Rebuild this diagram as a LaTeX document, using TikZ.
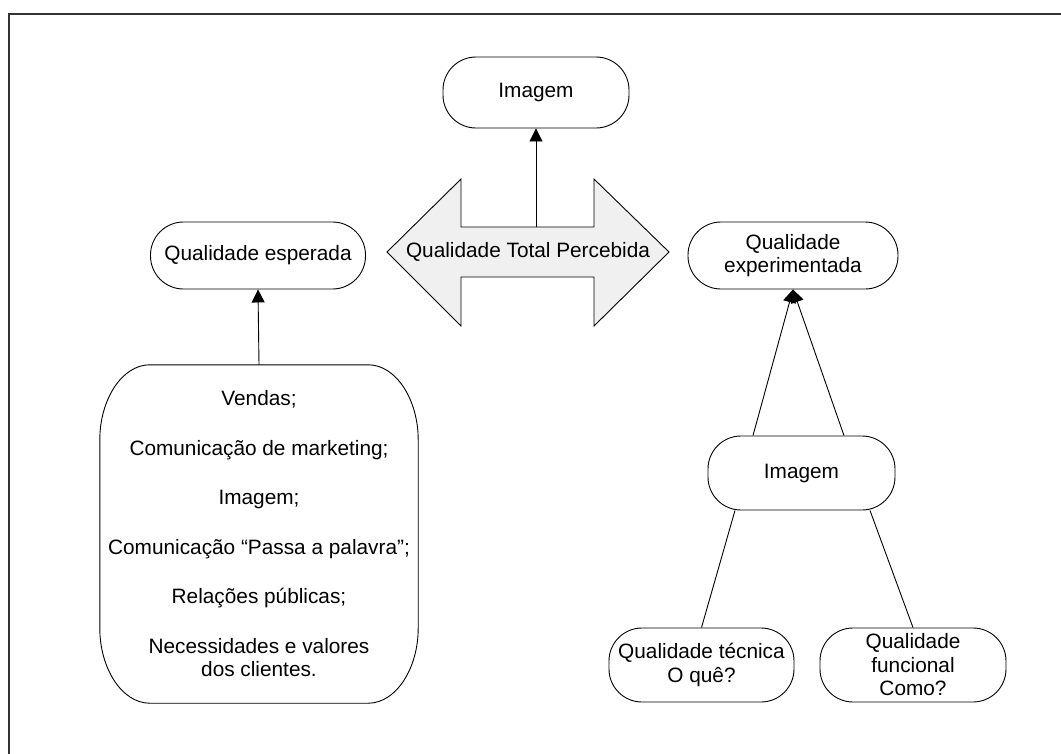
\documentclass[tikz,border=0pt]{standalone}
\usepackage{fontspec}
\setmainfont{Liberation Sans}
\usetikzlibrary{arrows.meta,calc}
\begin{document}
\begin{tikzpicture}[x=1pt,y=-1pt,
  txt/.style={font=\fontsize{20.8}{23.5}\selectfont},
  box/.style={draw, line width=0.9pt, rounded corners=33pt, inner sep=0pt,
              align=center, txt},
  link/.style={line width=0.9pt},
  tip/.style={-{Triangle[width=13pt,length=13pt]}}]
\useasboundingbox (0,0) rectangle (1061,753);
\fill[white] (0,0) rectangle (1061,753);
% outer frame
\draw[line width=2pt, black!80] (9,780) -- (9,14) -- (1080,14);

% nodes
\node[box, minimum width=186pt, minimum height=71pt] (img) at (536,92.5) {Imagem};
\node[box, minimum width=215pt, minimum height=67pt] (esp) at (258,255.5) {Qualidade esperada};
\node[box, minimum width=210pt, minimum height=67pt] (exp) at (793,255.5) {Qualidade\\experimentada};
\node[box, minimum width=187pt, minimum height=74pt] (imgm) at (801.5,473) {Imagem};
\node[box, minimum width=185pt, minimum height=74pt] (tec) at (701.5,665) {Qualidade técnica\\O quê?};
\node[box, minimum width=186pt, minimum height=74pt] (fun) at (913,665) {Qualidade\\funcional\\Como?};
\node[txt, align=center, inner sep=0pt, minimum width=318pt, minimum height=338pt] (big) at (259,534)
  {Vendas;\\[26pt]Comunicação de marketing;\\[26pt]Imagem;\\[26pt]Comunicação “Passa a palavra”;\\[26pt]Relações públicas;\\[26pt]Necessidades e valores\\dos clientes.};
% outline of the list block: flat top and bottom, elliptical corners
\draw[line width=0.9pt]
  ($(big.north west)+(50,0)$) -- ($(big.north east)+(-50,0)$)
  .. controls ($(big.north east)+(-22,0)$) and ($(big.north east)+(0,35)$) .. ($(big.north east)+(0,75)$)
  -- ($(big.south east)+(0,-75)$)
  .. controls ($(big.south east)+(0,-35)$) and ($(big.south east)+(-22,0)$) .. ($(big.south east)+(-50,0)$)
  -- ($(big.south west)+(50,0)$)
  .. controls ($(big.south west)+(22,0)$) and ($(big.south west)+(0,-35)$) .. ($(big.south west)+(0,-75)$)
  -- ($(big.north west)+(0,75)$)
  .. controls ($(big.north west)+(0,35)$) and ($(big.north west)+(22,0)$) .. ($(big.north west)+(50,0)$)
  -- cycle;

% double-headed block arrow
\draw[line width=0.9pt, fill=black!6] (387,252) -- (461,179) -- (461,227) -- (594,227) -- (594,179)
  -- (669,252) -- (594,326) -- (594,277) -- (461,277) -- (461,326) -- cycle;
\node[txt] (qtp) at (528,252) {Qualidade Total Percebida};
\coordinate (shaft) at (536,227);

% connectors
\draw[link,tip] (shaft) -- (img.south);
\draw[link,tip] (big.north) -- (esp.south);
\draw[link,tip] ($(imgm.north)+(-48.5,0)$) -- (exp.south);
\draw[link,tip] ($(imgm.north)+(42.5,0)$) -- (exp.south);
\draw[link] ($(imgm.south)+(-66.5,0)$) -- (tec.north);
\draw[link] ($(imgm.south)+(68.5,0)$) -- (fun.north);
\end{tikzpicture}
\end{document}
